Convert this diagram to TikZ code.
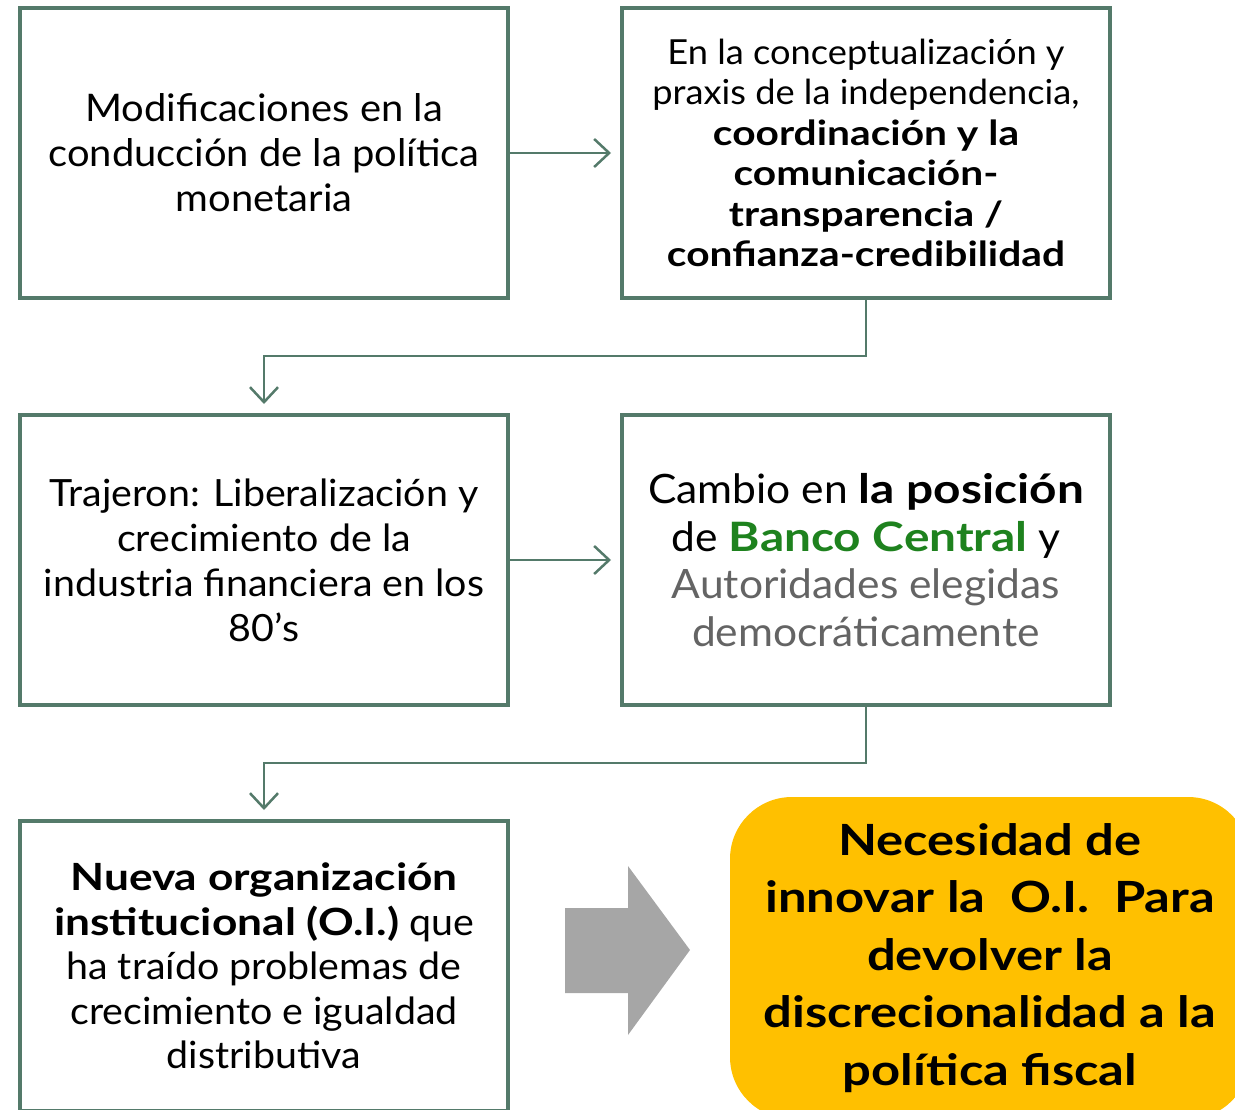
\documentclass[tikz,border=0pt]{standalone}
\usepackage{fontspec}
\setmainfont{Lato}[UprightFeatures={FakeStretch=1.05},BoldFeatures={FakeStretch=1.18}]
\usetikzlibrary{arrows.meta}
\definecolor{frame}{RGB}{84,122,106}
\definecolor{bcgreen}{RGB}{30,130,30}
\definecolor{autgray}{RGB}{100,100,100}
\definecolor{gold}{RGB}{255,192,0}
\definecolor{arrowgray}{RGB}{166,166,166}
\begin{document}
\begin{tikzpicture}[x=1pt,y=-1pt,
  box/.style={draw=frame, line width=4pt, minimum width=488pt, minimum height=290pt,
    align=center, inner sep=0pt, fill=white},
  conn/.style={draw=frame, line width=2.5pt, shorten >=9pt,
    -{Straight Barb[length=15pt,width=28pt,line width=2.5pt]}},
]
\useasboundingbox (0,0) rectangle (1235,1110);
\begin{scope}
\clip (0,0) rectangle (1235,1110);

\node[box, font=\fontsize{38}{45}\selectfont] (b1) at (264,153)
  {Modificaciones en la\\conducción de la política\\monetaria};

\node[box, font=\fontsize{34.5}{40.5}\selectfont] (b2) at (866,153)
  {En la conceptualización y\\praxis de la independencia,\\\textbf{coordinación y la}\\\textbf{comunicación-}\\\textbf{transparencia /}\\\textbf{confianza-credibilidad}};

\node[box, font=\fontsize{37.5}{45}\selectfont] (b3) at (264,560)
  {Trajeron: Liberalización y\\crecimiento de la\\industria financiera en los\\80’s};

\node[box, font=\fontsize{40.5}{47.5}\selectfont] (b4) at (866,560)
  {Cambio en \textbf{la posición}\\de \textbf{\textcolor{bcgreen}{Banco Central}} y\\\textcolor{autgray}{Autoridades elegidas}\\\textcolor{autgray}{democráticamente}};

\node[box, font=\fontsize{37.5}{44.5}\selectfont] (b5) at (264,966)
  {\textbf{Nueva organización}\\\textbf{institucional (O.I.)} que\\ha traído problemas de\\crecimiento e igualdad\\distributiva};

\node[fill=gold, rounded corners=62pt, minimum width=520pt, minimum height=322pt,
  inner sep=0pt, align=center, font=\bfseries\fontsize{43}{57.5}\selectfont] (y) at (990,958)
  {Necesidad de\\innovar la\ \ O.I.\ \ Para\\devolver la\\discrecionalidad a la\\política fiscal};

\coordinate (g1) at (565,908);
\coordinate (g2) at (628,908);
\coordinate (g3) at (628,866);
\coordinate (g4) at (690,950);
\coordinate (g5) at (628,1035);
\coordinate (g6) at (628,993);
\coordinate (g7) at (565,993);
\fill[arrowgray] (g1) -- (g2) -- (g3) -- (g4) -- (g5) -- (g6) -- (g7) -- cycle;

\draw[conn] (b1.east) -- (b2.west);
\draw[conn] (b3.east) -- (b4.west);
\draw[conn] (b2.south) -- ++(0,56) -| (b3.north);
\draw[conn] (b4.south) -- ++(0,56) -| (b5.north);
\end{scope}
\end{tikzpicture}
\end{document}
